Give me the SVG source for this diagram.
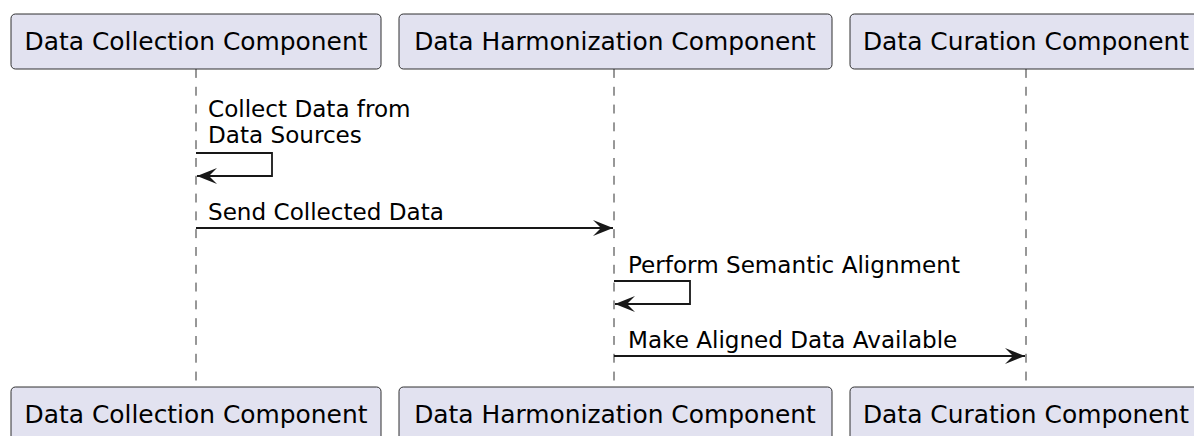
<svg xmlns="http://www.w3.org/2000/svg" width="1194" height="436" viewBox="0 0 1194 436">
<style>
.box{fill:#E2E2F0;stroke:#181818;stroke-width:0.9}
.ptxt{font-family:"DejaVu Sans",sans-serif;font-size:24.9px;fill:#000;text-anchor:middle}
.mtxt{font-family:"DejaVu Sans",sans-serif;font-size:23.1px;fill:#000}
.life{stroke:#181818;stroke-width:0.9;stroke-dasharray:8.9,8.9;fill:none}
.msg{stroke:#181818;stroke-width:1.8;fill:none;marker-end:url(#arr)}
</style>
<defs>
<marker id="arr" viewBox="0 0 20 16" refX="20" refY="8" markerWidth="20" markerHeight="16" markerUnits="userSpaceOnUse" orient="auto">
<path d="M0,0 L20,8 L0,16 L8,8 Z" fill="#181818"/>
</marker>
</defs>
<rect width="1194" height="436" fill="#FFFFFF"/>
<g id="lifelines">
<line class="life" x1="196" y1="69" x2="196" y2="387"/>
<line class="life" x1="614" y1="69" x2="614" y2="387"/>
<line class="life" x1="1026" y1="69" x2="1026" y2="387"/>
</g>
<g id="collection">
<rect class="box" x="11" y="14" width="370" height="55" rx="4.4"/>
<text class="ptxt" x="196" y="50">Data Collection Component</text>
<rect class="box" x="11" y="387" width="370" height="55" rx="4.4"/>
<text class="ptxt" x="196" y="423">Data Collection Component</text>
</g>
<g id="harmonization">
<rect class="box" x="399" y="14" width="433" height="55" rx="4.4"/>
<text class="ptxt" x="615" y="50">Data Harmonization Component</text>
<rect class="box" x="399" y="387" width="433" height="55" rx="4.4"/>
<text class="ptxt" x="615" y="423">Data Harmonization Component</text>
</g>
<g id="curation">
<rect class="box" x="850" y="14" width="352" height="55" rx="4.4"/>
<text class="ptxt" x="1026" y="50">Data Curation Component</text>
<rect class="box" x="850" y="387" width="352" height="55" rx="4.4"/>
<text class="ptxt" x="1026" y="423">Data Curation Component</text>
</g>
<g id="connectors">
<path class="msg" d="M196,153 H272 V176 H197"/>
<text class="mtxt" x="208" y="117">Collect Data from</text>
<text class="mtxt" x="208" y="143">Data Sources</text>
<path class="msg" d="M196,228 H613"/>
<text class="mtxt" x="208" y="220">Send Collected Data</text>
<path class="msg" d="M614,281 H690 V304 H615"/>
<text class="mtxt" x="628" y="273">Perform Semantic Alignment</text>
<path class="msg" d="M614,356 H1025"/>
<text class="mtxt" x="628" y="348">Make Aligned Data Available</text>
</g>
</svg>
